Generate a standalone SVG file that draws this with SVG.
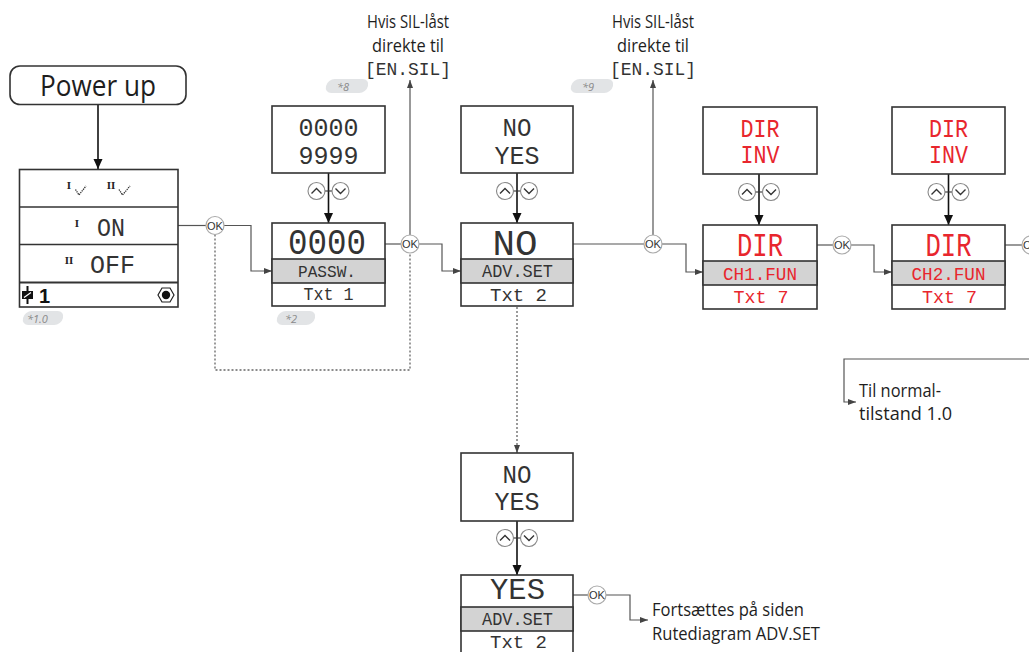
<svg xmlns="http://www.w3.org/2000/svg" width="1029" height="652" viewBox="0 0 1029 652">
<style>
.box{fill:#fff;stroke:#333;stroke-width:1.6}
.grey{fill:#d3d3d3;stroke:#333;stroke-width:1.6}
.dm{font-family:"Liberation Mono","DejaVu Sans Mono",monospace;fill:#333;text-anchor:middle}
.red{fill:#e8262d}
.lbl{font-family:"Open Sans","Liberation Sans",sans-serif;fill:#1e1e1e;font-size:18px}
.mid{text-anchor:middle}
.con{fill:none;stroke:#555;stroke-width:1.2}
.thick{fill:none;stroke:#111;stroke-width:1.6}
.dot{fill:none;stroke:#666;stroke-width:1.3;stroke-dasharray:2 2}
.okc{fill:#fff;stroke:#aaa;stroke-width:1.2}
.okt{font-family:"Liberation Sans",sans-serif;font-size:11px;fill:#333;text-anchor:middle}
.btn{fill:#fff;stroke:#888;stroke-width:1.1}
.chev{fill:none;stroke:#333;stroke-width:1.4}
.badge{fill:#e2e4e6}
.bt{font-family:"Open Sans","Liberation Sans",sans-serif;font-size:11px;font-style:italic;fill:#8a8a8a}
.rn{font-family:"Liberation Serif",serif;font-weight:bold;fill:#222;text-anchor:middle}
</style>
<defs>
<marker id="arr" markerUnits="userSpaceOnUse" markerWidth="8" markerHeight="6" refX="8" refY="3" orient="auto"><path d="M0,0 L8,3 L0,6 z" fill="#444"/></marker>
<marker id="arrB" markerUnits="userSpaceOnUse" markerWidth="10" markerHeight="10" refX="10" refY="4.5" orient="auto"><path d="M0,0 L10,4.5 L0,9 z" fill="#111"/></marker>
<g id="ud"><line x1="-4" y1="0" x2="4" y2="0" stroke="#333" stroke-width="1.1"/><circle cx="-12" cy="0" r="8.5" class="btn"/><circle cx="12" cy="0" r="8.5" class="btn"/><path d="M-17,2.5 L-12,-2.5 L-7,2.5" class="chev"/><path d="M7,-2.5 L12,2.5 L17,-2.5" class="chev"/></g>
</defs>

<g id="connectors">
<line x1="98" y1="105" x2="98" y2="169" class="thick" marker-end="url(#arrB)"/>
<line x1="178" y1="225.5" x2="206" y2="225.5" class="con"/>
<polyline points="224,225.5 251,225.5 251,271 272,271" class="con" marker-end="url(#arr)"/>
<polyline points="215,234.5 215,370 410,370 410,253" class="dot"/>
<line x1="385" y1="244" x2="401" y2="244" class="con"/>
<polyline points="419,244 442,244 442,271 461,271" class="con" marker-end="url(#arr)"/>
<line x1="410" y1="235" x2="410" y2="80" class="con" marker-end="url(#arr)"/>
<line x1="573" y1="244" x2="644" y2="244" class="con"/>
<polyline points="662,244 686,244 686,272 703,272" class="con" marker-end="url(#arr)"/>
<line x1="653" y1="235" x2="653" y2="80" class="con" marker-end="url(#arr)"/>
<line x1="817" y1="245" x2="833" y2="245" class="con"/>
<polyline points="851,245 874,245 874,272 892,272" class="con" marker-end="url(#arr)"/>
<line x1="1005" y1="245" x2="1022" y2="245" class="con"/>
<polyline points="1029,359 844,359 844,402 856,402" class="con" marker-end="url(#arr)"/>
<line x1="517" y1="307" x2="517" y2="453" class="dot" marker-end="url(#arr)"/>
<line x1="573" y1="595" x2="588" y2="595" class="con"/>
<polyline points="606,595 630,595 630,620 648,620" class="con" marker-end="url(#arr)"/>
<line x1="328.5" y1="173" x2="328.5" y2="223" class="thick" marker-end="url(#arrB)"/>
<line x1="517" y1="173" x2="517" y2="223" class="thick" marker-end="url(#arrB)"/>
<line x1="759" y1="174" x2="759" y2="225" class="thick" marker-end="url(#arrB)"/>
<line x1="948.5" y1="174" x2="948.5" y2="225" class="thick" marker-end="url(#arrB)"/>
<line x1="517" y1="521" x2="517" y2="575" class="thick" marker-end="url(#arrB)"/>
<use href="#ud" x="328.5" y="191"/>
<use href="#ud" x="517" y="191"/>
<use href="#ud" x="759" y="192"/>
<use href="#ud" x="948.5" y="192"/>
<use href="#ud" x="517" y="538"/>
<circle cx="215" cy="225.5" r="9" class="okc"/><text x="215" y="229.5" class="okt">OK</text>
<circle cx="410" cy="244" r="9" class="okc"/><text x="410" y="248" class="okt">OK</text>
<circle cx="653" cy="244" r="9" class="okc"/><text x="653" y="248" class="okt">OK</text>
<circle cx="842" cy="245" r="9" class="okc"/><text x="842" y="249" class="okt">OK</text>
<circle cx="1031" cy="245" r="9" class="okc"/><text x="1031" y="249" class="okt">OK</text>
<circle cx="597" cy="595" r="9" class="okc"/><text x="597" y="599" class="okt">OK</text>
</g>

<g id="powerup">
<rect x="10" y="66" width="176" height="38.5" rx="10" fill="#fff" stroke="#333" stroke-width="1.6"/>
<text x="98" y="96" class="lbl mid" style="font-size:29px" textLength="116" lengthAdjust="spacingAndGlyphs">Power up</text>
</g>

<g id="display-main">
<rect x="19.5" y="169.5" width="158.5" height="137.5" class="box"/>
<line x1="19.5" y1="207" x2="178" y2="207" stroke="#333" stroke-width="1.6"/>
<line x1="19.5" y1="244.5" x2="178" y2="244.5" stroke="#333" stroke-width="1.6"/>
<line x1="19.5" y1="282.5" x2="178" y2="282.5" stroke="#333" stroke-width="2.2"/>
<text x="69" y="189" class="rn" font-size="11">I</text>
<polyline points="75.5,189.5 79,195 86,186" fill="none" stroke="#333" stroke-width="1.3" stroke-dasharray="1.3 0.9"/>
<text x="111" y="189" class="rn" font-size="11">II</text>
<polyline points="119,189.5 122.5,195 130,186" fill="none" stroke="#333" stroke-width="1.3" stroke-dasharray="1.3 0.9"/>
<text x="77" y="227" class="rn" font-size="11">I</text>
<text x="111" y="236" class="dm" style="font-size:25px" textLength="28" lengthAdjust="spacingAndGlyphs">ON</text>
<text x="69" y="264" class="rn" font-size="11">II</text>
<text x="112.5" y="273" class="dm" style="font-size:25px" textLength="45" lengthAdjust="spacingAndGlyphs">OFF</text>
<line x1="27.5" y1="286" x2="27.5" y2="304" stroke="#111" stroke-width="2"/>
<rect x="22" y="291" width="11" height="8" fill="#111"/>
<line x1="24" y1="297.5" x2="31" y2="292.5" stroke="#fff" stroke-width="1.2"/>
<text x="39" y="303" font-family="Liberation Sans, Arial, sans-serif" font-weight="bold" font-size="20" fill="#111">1</text>
<polygon points="174,295 170,288 162,288 158,295 162,302 170,302" fill="#fff" stroke="#222" stroke-width="1.2"/>
<circle cx="166" cy="295" r="4.2" fill="#111"/>
</g>

<g id="badges">
<rect x="-20" y="-7" width="40" height="14" rx="7" class="badge" transform="translate(43,318) skewX(-14)"/>
<text x="27" y="323" class="bt">*1.0</text>
<rect x="-21" y="-7" width="42" height="14" rx="7" class="badge" transform="translate(347,86) skewX(-14)"/>
<text x="337" y="90.5" class="bt">*8</text>
<rect x="-19" y="-7" width="38" height="14" rx="7" class="badge" transform="translate(296,318) skewX(-14)"/>
<text x="285" y="322.5" class="bt">*2</text>
<rect x="-21" y="-7" width="42" height="14" rx="7" class="badge" transform="translate(592,86) skewX(-14)"/>
<text x="582" y="90.5" class="bt">*9</text>
</g>

<g id="sil1">
<text x="408" y="28" class="lbl mid" style="font-size:19px" textLength="82" lengthAdjust="spacingAndGlyphs">Hvis SIL-låst</text>
<text x="408" y="52" class="lbl mid" style="font-size:19px" textLength="72" lengthAdjust="spacingAndGlyphs">direkte til</text>
<text x="408" y="75" class="dm" style="font-size:19px" textLength="86" lengthAdjust="spacingAndGlyphs">[EN.SIL]</text>
</g>
<g id="sil2">
<text x="653" y="28" class="lbl mid" style="font-size:19px" textLength="82" lengthAdjust="spacingAndGlyphs">Hvis SIL-låst</text>
<text x="653" y="52" class="lbl mid" style="font-size:19px" textLength="72" lengthAdjust="spacingAndGlyphs">direkte til</text>
<text x="653" y="75" class="dm" style="font-size:19px" textLength="86" lengthAdjust="spacingAndGlyphs">[EN.SIL]</text>
</g>

<g id="pw-select">
<rect x="272" y="106" width="113" height="67" class="box"/>
<text x="328.5" y="136" class="dm" style="font-size:26px" textLength="60" lengthAdjust="spacingAndGlyphs">0000</text>
<text x="328.5" y="164" class="dm" style="font-size:26px" textLength="60" lengthAdjust="spacingAndGlyphs">9999</text>
</g>
<g id="pw-display">
<rect x="272" y="223" width="113" height="83" class="box"/>
<rect x="272" y="259" width="113" height="24" class="grey"/>
<text x="327" y="254" class="dm" style="font-size:36px" textLength="78" lengthAdjust="spacingAndGlyphs">0000</text>
<text x="327" y="276.5" class="dm" style="font-size:17px" textLength="58" lengthAdjust="spacingAndGlyphs">PASSW.</text>
<text x="328.5" y="300" class="dm" style="font-size:18px" textLength="50" lengthAdjust="spacingAndGlyphs">Txt 1</text>
</g>

<g id="adv-select">
<rect x="461" y="106" width="112" height="67" class="box"/>
<text x="517" y="136" class="dm" style="font-size:26px" textLength="29" lengthAdjust="spacingAndGlyphs">NO</text>
<text x="517" y="164" class="dm" style="font-size:26px" textLength="45" lengthAdjust="spacingAndGlyphs">YES</text>
</g>
<g id="adv-display">
<rect x="461" y="223" width="112" height="83" class="box"/>
<rect x="461" y="259" width="112" height="24" class="grey"/>
<text x="515" y="255" class="dm" style="font-size:36px" textLength="45" lengthAdjust="spacingAndGlyphs">NO</text>
<text x="517.5" y="277" class="dm" style="font-size:18px" textLength="71" lengthAdjust="spacingAndGlyphs">ADV.SET</text>
<text x="518.5" y="301" class="dm" style="font-size:18px" textLength="57" lengthAdjust="spacingAndGlyphs">Txt 2</text>
</g>

<g id="ch1-select">
<rect x="703" y="107" width="114" height="67" class="box"/>
<text x="760" y="137" class="dm red" style="font-size:25px" textLength="39" lengthAdjust="spacingAndGlyphs">DIR</text>
<text x="760" y="163" class="dm red" style="font-size:25px" textLength="39" lengthAdjust="spacingAndGlyphs">INV</text>
</g>
<g id="ch1-display">
<rect x="703" y="225" width="114" height="84" class="box"/>
<rect x="703" y="261" width="114" height="24" class="grey"/>
<text x="760" y="256" class="dm red" style="font-size:34px" textLength="46" lengthAdjust="spacingAndGlyphs">DIR</text>
<text x="760" y="280" class="dm red" style="font-size:18px" textLength="74" lengthAdjust="spacingAndGlyphs">CH1.FUN</text>
<text x="761" y="303" class="dm red" style="font-size:19px" textLength="55" lengthAdjust="spacingAndGlyphs">Txt 7</text>
</g>

<g id="ch2-select">
<rect x="892" y="107" width="113" height="67" class="box"/>
<text x="948.5" y="137" class="dm red" style="font-size:25px" textLength="39" lengthAdjust="spacingAndGlyphs">DIR</text>
<text x="948.5" y="163" class="dm red" style="font-size:25px" textLength="39" lengthAdjust="spacingAndGlyphs">INV</text>
</g>
<g id="ch2-display">
<rect x="892" y="225" width="113" height="84" class="box"/>
<rect x="892" y="261" width="113" height="24" class="grey"/>
<text x="948.5" y="256" class="dm red" style="font-size:34px" textLength="46" lengthAdjust="spacingAndGlyphs">DIR</text>
<text x="948.5" y="280" class="dm red" style="font-size:18px" textLength="74" lengthAdjust="spacingAndGlyphs">CH2.FUN</text>
<text x="949.5" y="303" class="dm red" style="font-size:19px" textLength="55" lengthAdjust="spacingAndGlyphs">Txt 7</text>
</g>

<g id="normal-label">
<text x="859" y="397" class="lbl" textLength="82" lengthAdjust="spacingAndGlyphs">Til normal-</text>
<text x="859" y="420" class="lbl" textLength="93" lengthAdjust="spacingAndGlyphs">tilstand 1.0</text>
</g>

<g id="adv2-select">
<rect x="461" y="453" width="112" height="68" class="box"/>
<text x="517" y="483" class="dm" style="font-size:26px" textLength="29" lengthAdjust="spacingAndGlyphs">NO</text>
<text x="517" y="510" class="dm" style="font-size:26px" textLength="45" lengthAdjust="spacingAndGlyphs">YES</text>
</g>
<g id="adv2-display">
<rect x="461" y="575" width="112" height="82" class="box"/>
<rect x="461" y="607" width="112" height="24" class="grey"/>
<text x="517.5" y="599" class="dm" style="font-size:29px" textLength="55" lengthAdjust="spacingAndGlyphs">YES</text>
<text x="517.5" y="625" class="dm" style="font-size:18px" textLength="71" lengthAdjust="spacingAndGlyphs">ADV.SET</text>
<text x="518.5" y="648" class="dm" style="font-size:18px" textLength="57" lengthAdjust="spacingAndGlyphs">Txt 2</text>
</g>

<g id="adv-label">
<text x="652" y="616" class="lbl" textLength="152" lengthAdjust="spacingAndGlyphs">Fortsættes på siden</text>
<text x="652" y="640" class="lbl" textLength="168" lengthAdjust="spacingAndGlyphs">Rutediagram ADV.SET</text>
</g>
</svg>
